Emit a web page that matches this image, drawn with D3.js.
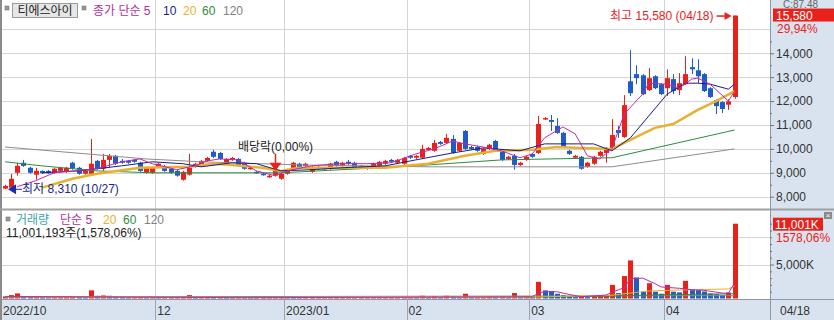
<!DOCTYPE html>
<html>
<head>
<meta charset="utf-8">
<script src="https://cdn.jsdelivr.net/npm/d3@7"></script>
<style>
body { margin: 0; background: #fff; }
svg { display: block; font-family: "Liberation Sans", "Noto Sans CJK KR", sans-serif; }
</style>
</head>
<body>
<svg id="chart" width="834" height="320"></svg>
<script>
// trading days shown (2022/10/27 .. 2023/04/18)
var dates = [
  "10/27","10/28","10/31",
  "11/01","11/02","11/03","11/04","11/07","11/08","11/09","11/10","11/11","11/14","11/15","11/16","11/17","11/18","11/21","11/22","11/23","11/24","11/25","11/28","11/29","11/30",
  "12/01","12/02","12/05","12/06","12/07","12/08","12/09","12/12","12/13","12/14","12/15","12/16","12/19","12/20","12/21","12/22","12/23","12/26","12/27","12/28","12/29",
  "01/02","01/03","01/04","01/05","01/06","01/09","01/10","01/11","01/12","01/13","01/16","01/17","01/18","01/19","01/20","01/25","01/26","01/27","01/30","01/31",
  "02/01","02/02","02/03","02/06","02/07","02/08","02/09","02/10","02/13","02/14","02/15","02/16","02/17","02/20","02/21","02/22","02/23","02/24","02/27","02/28",
  "03/02","03/03","03/06","03/07","03/08","03/09","03/10","03/13","03/14","03/15","03/16","03/17","03/20","03/21","03/22","03/23","03/24","03/27","03/28","03/29","03/30","03/31",
  "04/03","04/04","04/05","04/06","04/07","04/10","04/11","04/12","04/13","04/14","04/17","04/18"
];

var opens = [8340,8380,9000,9420,9210,8920,9080,9080,9000,9080,9040,9420,9210,8960,8960,9500,9170,9540,9710,9500,
  9500,9540,9420,9000,9000,9250,9290,9170,9080,8710,8920,9250,9290,9500,9880,9830,9380,9540,9580,9420,
  9170,9040,8960,8810,8880,8750,8960,9210,9380,9290,9040,9250,9210,9170,9460,9290,9460,9420,9210,9170,
  9210,9290,9380,9540,9420,9380,9710,9630,9630,9960,9920,10290,10250,10420,9920,10750,10080,10080,9790,10000,
  10330,9960,9580,9710,9330,9540,9790,9830,11250,11210,10960,10670,9920,9630,9670,9250,9380,9710,9830,10000,
  10790,10500,12830,13130,13080,12460,13040,12710,12540,12920,12460,12710,13420,13290,13130,12540,12040,11960,11850,12170];
var highs = [8500,8950,9420,9540,9250,9210,9100,9120,9210,9250,9250,9460,9250,9130,10420,9540,9790,9790,9750,9580,
  9540,9580,9460,9250,9250,9420,9330,9210,9130,9080,9790,9420,9540,9670,9960,9880,9620,9670,9620,9460,
  9290,9080,9000,8920,9130,9000,9170,9460,9420,9420,9290,9290,9250,9420,9500,9460,9540,9460,9330,9290,
  9420,9500,9540,9580,9580,9670,9750,9750,10170,10080,10380,10330,10630,10580,10290,10790,10130,10130,10040,10210,
  10380,10000,9710,9790,9460,9710,9830,11380,11330,11420,11290,10710,9960,9750,9710,9460,9710,9920,10080,11250,
  10960,12250,14130,13500,13130,13380,13080,12750,13330,13130,13170,13880,13790,13750,13170,12580,12080,12000,12080,15580];
var lows = [8310,8350,8880,9250,8960,8710,8950,8960,8960,9040,9000,9130,8920,8920,8920,9130,9080,9210,9330,9380,
  9380,9420,9040,8960,8960,9210,9040,8960,8840,8670,8880,9210,9250,9460,9620,9540,9330,9500,9250,9130,
  9130,8960,8880,8790,8840,8710,8920,9170,9170,9250,9000,9130,9130,9130,9250,9250,9330,9170,9170,9130,
  9170,9250,9330,9420,9380,9330,9580,9580,9580,9920,9880,10170,10210,9790,9880,9960,9960,9880,9750,9960,
  9920,9500,9540,9130,9290,9500,9630,9790,11210,10750,10630,10040,9750,9580,9130,9210,9330,9670,9420,9960,
  10460,10460,12210,12710,12250,12420,12500,12250,12210,12290,12250,12670,13130,12750,12380,12130,11460,11500,11630,12100];
var closes = [8450,8750,9290,9290,9000,9080,8980,8980,9170,9210,9210,9170,8960,9080,9380,9170,9540,9710,9380,9420,
  9420,9460,9080,9210,9210,9380,9080,9000,8880,9040,9210,9380,9500,9620,9670,9580,9580,9620,9290,9170,
  9210,8980,8900,8880,9080,8960,9130,9420,9210,9380,9250,9170,9170,9380,9290,9420,9380,9210,9290,9250,
  9380,9460,9500,9460,9540,9620,9630,9710,10000,10040,10250,10210,10460,9830,10250,10000,10000,9920,10000,10170,
  9960,9540,9670,9330,9420,9670,9670,11040,11290,11130,10670,10080,9790,9710,9170,9420,9670,9880,10040,10580,
  10670,11830,12330,12960,12290,12960,12540,12290,12960,12420,12750,13130,13330,13040,12420,12170,11790,11670,11990,15580];

// volume, thousand shares
var volumes = [300,500,750,300,250,250,200,150,200,200,200,250,200,150,1200,400,450,400,250,200,
  150,150,200,150,150,100,150,150,150,250,500,200,200,200,150,150,100,100,120,150,
  100,100,100,100,100,100,150,100,100,100,100,100,100,100,100,100,100,100,100,100,
  100,100,100,100,100,150,200,150,400,200,350,200,400,300,250,700,200,200,200,300,
  250,300,200,800,200,350,200,2450,1200,1100,700,500,300,200,300,200,300,350,400,2000,
  800,3300,5600,3100,1000,2250,1000,700,2000,1000,900,2600,1370,1230,1030,740,640,540,880,11001];

// price moving averages: [day index, value]
var ma5 = [[2,8420],[5,8670],[8,9000],[15,9170],[19,9460],[22,9580],[24,9380],[28,9130],[31,9290],[33,9500],
  [35,9580],[38,9540],[41,9080],[44,8880],[46,9080],[50,9290],[54,9380],[59,9380],[63,9420],[67,9790],
  [70,10000],[73,10330],[75,10210],[78,10080],[81,9920],[84,9630],[86,9790],[88,10460],[91,10920],[93,10630],
  [95,9710],[97,9580],[99,10000],[101,11460],[104,12290],[105,12750],[108,12710],[110,12540],[112,12920],[113,12960],
  [115,12710],[118,12000],[119,12420]];
var ma10 = [[6,9000],[12,9080],[19,9290],[24,9460],[29,9380],[32,9250],[37,9420],[41,9380],[45,9080],[50,9130],
  [55,9210],[62,9290],[67,9540],[73,9830],[78,10040],[84,9920],[88,10210],[96,10210],[99,9920],[102,10460],
  [108,12290],[111,12750],[113,12750],[115,12710],[118,12500],[119,12710]];
var ma20 = [[6,8380],[11,8750],[15,8960],[22,9210],[30,9250],[34,9380],[37,9330],[42,9210],[45,9080],[48,9210],
  [54,9210],[62,9210],[69,9380],[75,9710],[80,9920],[86,9960],[90,10080],[94,10040],[99,10000],[102,10380],
  [106,10880],[109,11040],[113,11630],[116,12000],[119,12420]];
var ma60 = [[0,9460],[6,9290],[15,9080],[24,9000],[45,9000],[61,9210],[69,9330],[81,9540],[99,9630],[119,10790]];
var ma120 = [[0,10080],[23,9580],[32,9460],[48,9330],[69,9250],[99,9250],[119,10000]];

// volume moving averages: [day index, thousand shares]
var vma5 = [[0,300],[20,200],[40,120],[86,250],[87,800],[88,1000],[90,1000],[92,600],[94,260],[98,500],
  [99,900],[101,1600],[102,2900],[104,3000],[106,2200],[107,1700],[110,1500],[112,1300],[114,1200],[117,800],
  [118,770],[119,2300]];
var vma20 = [[0,250],[40,150],[86,200],[99,500],[102,800],[105,1100],[110,1250],[118,1400],[119,1850]];
var vma60 = [[0,250],[60,150],[86,200],[99,350],[105,500],[110,580],[119,700]];
var vma120 = [[0,220],[119,420]];

var priceTicks = [8000, 9000, 10000, 11000, 12000, 13000, 14000];
var monthTicks = ["10/27", "12/01", "01/02", "02/01", "03/02", "04/03"];
var monthLabels = ["2022/10", "12", "2023/01", "02", "03", "04"];

var W = 834, H = 320;
var plotRight = 770;
var RED = "#e8221b", BLUE = "#1f5cc8";

var svg = d3.select("#chart");

var x = d3.scaleBand().domain(dates).range([2, 2 + dates.length * 6.13]);
var bw = x.bandwidth();
var cx = function(i) { return x(dates[i]) + bw / 2; };

var y = d3.scaleLinear().domain([8000, 14000]).range([196.7, 53.3]);
var yv = d3.scaleLinear().domain([0, 5000]).range([298.5, 264.5]);

// backgrounds
svg.append("rect").attr("x", 0).attr("y", 0).attr("width", W).attr("height", H).attr("fill", "#fff");
svg.append("rect").attr("x", plotRight).attr("y", 0).attr("width", W - plotRight).attr("height", H).attr("fill", "#d9e3ef");
svg.append("rect").attr("x", 0).attr("y", 300).attr("width", W).attr("height", 20).attr("fill", "#d9e3ef");

// grid
var grid = svg.append("g").attr("stroke", "#d4d4d4").attr("stroke-width", 1);
[15000].concat(priceTicks).forEach(function(p) {
  grid.append("line").attr("x1", 2).attr("x2", plotRight).attr("y1", Math.round(y(p)) + 0.5).attr("y2", Math.round(y(p)) + 0.5);
});
[5000, 9000].forEach(function(v) {
  grid.append("line").attr("x1", 2).attr("x2", plotRight).attr("y1", Math.round(yv(v)) + 0.5).attr("y2", Math.round(yv(v)) + 0.5);
});
monthTicks.slice(1).forEach(function(d) {
  var gx = Math.round(x(d)) + 0.5;
  grid.append("line").attr("x1", gx).attr("x2", gx).attr("y1", 0).attr("y2", 300);
  svg.append("line").attr("x1", gx).attr("x2", gx).attr("y1", 300).attr("y2", H).attr("stroke", "#9aa6b4");
});

// candles: red when close >= open
var idx = d3.range(dates.length);
var candleColor = function(i) { return closes[i] >= opens[i] ? RED : BLUE; };
var candles = svg.append("g");
candles.selectAll("line").data(idx).join("line")
  .attr("x1", function(i) { return Math.round(cx(i)) + 0.5; })
  .attr("x2", function(i) { return Math.round(cx(i)) + 0.5; })
  .attr("y1", function(i) { return y(highs[i]); })
  .attr("y2", function(i) { return y(lows[i]); })
  .attr("stroke", candleColor);
candles.selectAll("rect").data(idx).join("rect")
  .attr("x", function(i) { return Math.round(cx(i)) - 2; })
  .attr("width", 5)
  .attr("y", function(i) { return y(Math.max(opens[i], closes[i])); })
  .attr("height", function(i) { return Math.max(1.5, Math.abs(y(opens[i]) - y(closes[i]))); })
  .attr("fill", candleColor);

// volume bars: red when volume rose from the day before
svg.append("g").selectAll("rect").data(idx).join("rect")
  .attr("x", function(i) { return Math.round(cx(i)) - 2; })
  .attr("width", 5)
  .attr("y", function(i) { return yv(volumes[i]); })
  .attr("height", function(i) { return yv(0) - yv(volumes[i]); })
  .attr("fill", function(i) { return i === 0 || volumes[i] >= volumes[i - 1] ? RED : BLUE; });

// moving averages
function drawLine(data, scale, color, width) {
  svg.append("path").datum(data)
    .attr("fill", "none").attr("stroke", color).attr("stroke-width", width)
    .attr("d", d3.line().x(function(d) { return cx(d[0]); }).y(function(d) { return scale(d[1]); }));
}
drawLine(ma120, y, "#8c8c8c", 1);
drawLine(ma60, y, "#2e8b3e", 1);
drawLine(ma20, y, "#e8b030", 2.5);
drawLine(ma10, y, "#1b1f7a", 1);
drawLine(ma5, y, "#c02ab0", 1);
drawLine(vma120, yv, "#8c8c8c", 1);
drawLine(vma60, yv, "#2e8b3e", 1);
drawLine(vma20, yv, "#e8b030", 1);
drawLine(vma5, yv, "#c02ab0", 1);

// panel frame
svg.append("rect").attr("x", 0).attr("y", 0).attr("width", 2).attr("height", H).attr("fill", "#8a8a8a");
svg.append("line").attr("x1", 0).attr("x2", W).attr("y1", 209.5).attr("y2", 209.5).attr("stroke", "#a0a0a0").attr("stroke-width", 2);
svg.append("line").attr("x1", 0).attr("x2", W).attr("y1", 299.5).attr("y2", 299.5).attr("stroke", "#8c98a8");
svg.append("line").attr("x1", plotRight + 0.5).attr("x2", plotRight + 0.5).attr("y1", 0).attr("y2", H).attr("stroke", "#8c98a8");

// right price axis
var yAxis = svg.append("g").attr("transform", "translate(" + plotRight + ",0)")
  .call(d3.axisRight(y).tickValues(priceTicks).tickFormat(d3.format(",")).tickSize(4).tickPadding(2));
yAxis.select(".domain").remove();
yAxis.selectAll("line").attr("stroke", "#6c7684");
yAxis.selectAll("text").attr("font-size", 12).attr("fill", "#333").attr("font-family", "Liberation Sans");
svg.append("g").attr("transform", "translate(" + plotRight + ",0)")
  .call(d3.axisRight(y).tickValues([8500, 9500, 10500, 11500, 12500, 13500, 14500]).tickFormat("").tickSize(2))
  .call(function(g) { g.select(".domain").remove(); g.selectAll("line").attr("stroke", "#6c7684"); });

// right volume axis
var vAxis = svg.append("g").attr("transform", "translate(" + plotRight + ",0)")
  .call(d3.axisRight(yv).tickValues([5000]).tickFormat(function(d) { return d3.format(",")(d) + "K"; }).tickSize(4).tickPadding(2));
vAxis.select(".domain").remove();
vAxis.selectAll("line").attr("stroke", "#6c7684");
vAxis.selectAll("text").attr("font-size", 12).attr("fill", "#333");
svg.append("g").attr("transform", "translate(" + plotRight + ",0)")
  .call(d3.axisRight(yv).tickValues([1000, 2000, 3000, 4000, 6000, 7000, 8000, 9000, 10000, 11000]).tickFormat("").tickSize(2))
  .call(function(g) { g.select(".domain").remove(); g.selectAll("line").attr("stroke", "#6c7684"); });

// bottom date axis
var xLab = svg.append("g").attr("font-size", 12).attr("fill", "#333");
monthTicks.forEach(function(d, k) {
  xLab.append("text").attr("x", k === 0 ? 3 : x(d) + 2).attr("y", 315).text(monthLabels[k]);
});
xLab.append("text").attr("x", 780).attr("y", 315).text(dates[dates.length - 1]);

// last price marker
var last = dates.length - 1;
svg.append("text").attr("x", 783).attr("y", 8).attr("font-size", 10).attr("fill", "#666").text("C:87.48");
svg.append("rect").attr("x", 773).attr("y", y(closes[last]) - 7).attr("width", 61).attr("height", 13).attr("fill", RED);
svg.append("text").attr("x", 776).attr("y", y(closes[last]) + 4.5).attr("font-size", 12).attr("fill", "#fff").text(d3.format(",")(closes[last]));
svg.append("text").attr("x", 777).attr("y", y(closes[last]) + 17).attr("font-size", 12).attr("fill", RED).text("29,94%");

svg.append("rect").attr("x", 773).attr("y", yv(volumes[last]) - 6).attr("width", 50).attr("height", 13).attr("fill", RED);
svg.append("text").attr("x", 775).attr("y", yv(volumes[last]) + 5).attr("font-size", 12).attr("fill", "#fff").text(d3.format(",")(volumes[last]) + "K");
svg.append("text").attr("x", 776).attr("y", yv(volumes[last]) + 18).attr("font-size", 12).attr("fill", RED).text("1578,06%");
svg.append("rect").attr("x", 824).attr("y", 212).attr("width", 8).attr("height", 7).attr("fill", "#8a8a8a");
svg.append("text").attr("x", 828).attr("y", 218).attr("font-size", 8).attr("fill", "#fff").attr("text-anchor", "middle").text("×");

// high annotation
var hx = cx(last), hy = y(highs[last]);
svg.append("text").attr("x", hx - 21).attr("y", hy + 4).attr("font-size", 12).attr("fill", RED).attr("text-anchor", "end").text("최고 15,580 (04/18)");
svg.append("line").attr("x1", hx - 18).attr("x2", hx - 8).attr("y1", hy + 0.5).attr("y2", hy + 0.5).attr("stroke", RED).attr("stroke-width", 1.5);
svg.append("path").attr("d", "M" + (hx - 3) + "," + (hy + 0.5) + "l-7,-4v8z").attr("fill", RED);

// low annotation
var lx = cx(0), ly = y(lows[0]);
svg.append("path").attr("d", "M" + (lx + 3) + "," + ly + "l8,-5v10z").attr("fill", "#1a2bb0");
svg.append("line").attr("x1", lx + 10).attr("x2", lx + 17).attr("y1", ly).attr("y2", ly).attr("stroke", "#1a2bb0");
svg.append("text").attr("x", lx + 17).attr("y", ly + 4).attr("font-size", 12).attr("fill", "#1a2a8a").text("최저 8,310 (10/27)");

// ex-dividend marker
var dx = Math.round(cx(44)) + 0.5, dy = y(highs[44]);
svg.append("text").attr("x", dx).attr("y", dy - 19).attr("font-size", 12).attr("fill", "#222").attr("text-anchor", "middle").text("배당락(0,00%)");
svg.append("line").attr("x1", dx).attr("x2", dx).attr("y1", dy - 16).attr("y2", dy - 6).attr("stroke", RED).attr("stroke-width", 1.5);
svg.append("path").attr("d", "M" + dx + "," + (dy + 1) + "l-6,-8h12z").attr("fill", RED);

// price legend
var lg = svg.append("g").attr("font-size", 12);
lg.append("rect").attr("x", 5).attr("y", 6).attr("width", 4).attr("height", 4).attr("fill", "#999").attr("stroke", "#666").attr("stroke-width", 0.5);
lg.append("rect").attr("x", 12.5).attr("y", 3.5).attr("width", 65).attr("height", 14).attr("fill", "#e6e6e6").attr("stroke", "#9a9a9a");
lg.append("text").attr("x", 45).attr("y", 15).attr("text-anchor", "middle").attr("fill", "#222").text("티에스아이");
lg.append("rect").attr("x", 82).attr("y", 6).attr("width", 4).attr("height", 4).attr("fill", "#999").attr("stroke", "#666").attr("stroke-width", 0.5);
lg.append("text").attr("x", 93).attr("y", 15).attr("fill", "#b0309c").text("종가 단순 5");
lg.append("text").attr("x", 163).attr("y", 15).attr("fill", "#1b1f7a").text("10");
lg.append("text").attr("x", 183).attr("y", 15).attr("fill", "#e8b030").text("20");
lg.append("text").attr("x", 202).attr("y", 15).attr("fill", "#2e8b3e").text("60");
lg.append("text").attr("x", 223).attr("y", 15).attr("fill", "#808080").text("120");

// volume legend
var vg = svg.append("g").attr("font-size", 12);
vg.append("rect").attr("x", 6).attr("y", 217).attr("width", 4).attr("height", 4).attr("fill", "#999").attr("stroke", "#666").attr("stroke-width", 0.5);
vg.append("text").attr("x", 16).attr("y", 224).attr("fill", "#3a9fb0").text("거래량");
vg.append("text").attr("x", 60).attr("y", 224).attr("fill", "#b0309c").text("단순 5");
vg.append("text").attr("x", 103).attr("y", 224).attr("fill", "#e8b030").text("20");
vg.append("text").attr("x", 123).attr("y", 224).attr("fill", "#2e8b3e").text("60");
vg.append("text").attr("x", 144).attr("y", 224).attr("fill", "#808080").text("120");
vg.append("text").attr("x", 6).attr("y", 237).attr("fill", "#222").text("11,001,193주(1,578,06%)");
</script>
</body>
</html>
